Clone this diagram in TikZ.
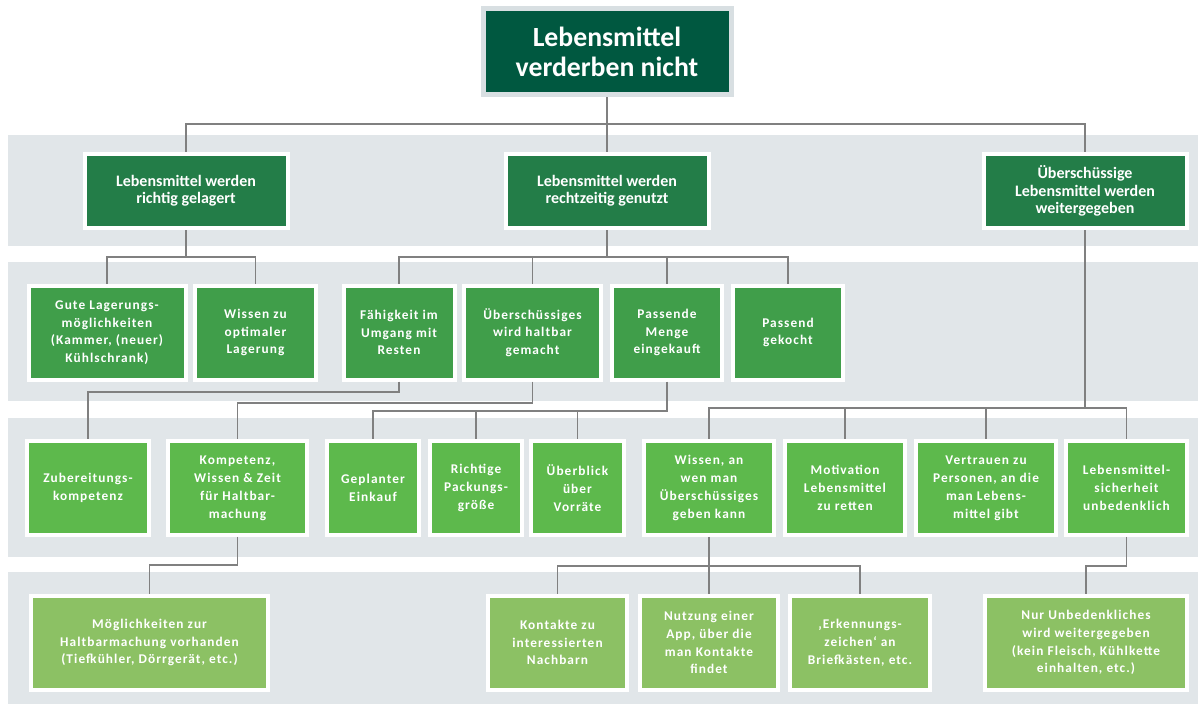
\documentclass[tikz,border=0pt]{standalone}
\usepackage{fontspec}
\setmainfont{Carlito}
\newfontfamily\spacedfont[LetterSpace=8]{Carlito}
\usepackage{tikz}

\definecolor{topgreen}{HTML}{005840}
\definecolor{topframe}{HTML}{D8DFE2}
\definecolor{onegreen}{HTML}{237D48}
\definecolor{twogreen}{HTML}{409E4A}
\definecolor{threegreen}{HTML}{5DB94C}
\definecolor{fourgreen}{HTML}{8CC164}
\definecolor{bandgrey}{HTML}{E1E6E9}
\definecolor{linkgrey}{HTML}{808080}

\begin{document}
\begin{tikzpicture}[
  x=0.75pt, y=-0.75pt,
  band/.style={fill=bandgrey},
  tile/.style={draw=white, line width=3pt, text=white, align=center, inner sep=0pt},
  goalbox/.style={tile, fill=topgreen, draw=topframe, line width=3.75pt, minimum width=248*0.75pt, minimum height=86*0.75pt, font=\fontsize{20.8}{22.5}\selectfont\bfseries},
  lvlone/.style={tile, fill=onegreen, minimum width=203*0.75pt, minimum height=74*0.75pt, font=\fontsize{12}{13}\selectfont\bfseries},
  lvltwo/.style={tile, fill=twogreen, minimum height=94*0.75pt, font=\spacedfont\fontsize{10}{13.3}\selectfont\bfseries},
  lvlthree/.style={tile, fill=threegreen, minimum height=93.5*0.75pt, font=\spacedfont\fontsize{10}{13.5}\selectfont\bfseries},
  lvlfour/.style={tile, fill=fourgreen, minimum height=94*0.75pt, font=\spacedfont\fontsize{10}{13.3}\selectfont\bfseries},
  wd/.style={minimum width=#1*0.75pt},
  link/.style={draw=linkgrey, line width=1pt}
]
\useasboundingbox (0,0) rectangle (1198,704);

% grey bands behind the levels
\fill[band] (8,135) rectangle (1198,246);
\fill[band] (8,262) rectangle (1198,401);
\fill[band] (8,418) rectangle (1198,557);
\fill[band] (8,572) rectangle (1198,704);

% goal
\node[goalbox] (goal) at (607,51.5) {Lebensmittel\\verderben nicht};

% level 1
\node[lvlone] (lager) at (186,191) {Lebensmittel werden\\richtig gelagert};
\node[lvlone] (genutzt) at (607,191) {Lebensmittel werden\\rechtzeitig genutzt};
\node[lvlone] (weiter) at (1085,191) {Überschüssige\\Lebensmittel werden\\weitergegeben};

% level 2
\node[lvltwo, wd=157] (raum) at (107,332.5) {Gute Lagerungs-\\möglichkeiten\\(Kammer, (neuer)\\Kühlschrank)};
\node[lvltwo, wd=121] (wissenlager) at (255.5,332.5) {Wissen zu\\optimaler\\Lagerung};
\node[lvltwo, wd=111] (reste) at (399,332.5) {Fähigkeit im\\Umgang mit\\Resten};
\node[lvltwo, wd=137] (haltbar) at (532.5,332.5) {Überschüssiges\\wird haltbar\\gemacht};
\node[lvltwo, wd=110] (menge) at (667,332.5) {Passende\\Menge\\eingekauft};
\node[lvltwo, wd=110] (gekocht) at (788,332.5) {Passend\\gekocht};

% level 3
\node[lvlthree, wd=122] (zubereit) at (88,488) {Zubereitungs-\\kompetenz};
\node[lvlthree, wd=139] (kompetenz) at (237.5,488) {Kompetenz,\\Wissen \& Zeit\\für Haltbar-\\machung};
\node[lvlthree, wd=92] (geplant) at (373,488) {Geplanter\\Einkauf};
\node[lvlthree, wd=92.5] (packung) at (476,488) {Richtige\\Packungs-\\größe};
\node[lvlthree, wd=93] (vorrat) at (577.5,488) {Überblick\\über\\Vorräte};
\node[lvlthree, wd=130] (wissenan) at (709,488) {Wissen, an\\wen man\\Überschüssiges\\geben kann};
\node[lvlthree, wd=120] (motiv) at (845,488) {Motivation\\Lebensmittel\\zu retten};
\node[lvlthree, wd=140] (vertrauen) at (986,488) {Vertrauen zu\\Personen, an die\\man Lebens-\\mittel gibt};
\node[lvlthree, wd=121] (sicher) at (1126.5,488) {Lebensmittel-\\sicherheit\\unbedenklich};

% level 4
\node[lvlfour, wd=237] (moeglich) at (149.5,642.5) {Möglichkeiten zur\\Haltbarmachung vorhanden\\(Tiefkühler, Dörrgerät, etc.)};
\node[lvlfour, wd=139] (kontakte) at (557.5,642.5) {Kontakte zu\\interessierten\\Nachbarn};
\node[lvlfour, wd=138.5] (app) at (709,642.5) {Nutzung einer\\App, über die\\man Kontakte\\findet};
\node[lvlfour, wd=140] (zeichen) at (860,642.5) {‚Erkennungs-\\zeichen‘ an\\Briefkästen, etc.};
\node[lvlfour, wd=202] (unbedenk) at (1086,642.5) {Nur Unbedenkliches\\wird weitergegeben\\(kein Fleisch, Kühlkette\\einhalten, etc.)};

% junctions
\coordinate (j-goal) at (607,124);
\coordinate (j-lager) at (186,257);
\coordinate (j-genutzt) at (607,257);
\coordinate (j-weiter) at (1085,408);
\coordinate (j-reste) at (399,392);
\coordinate (j-haltbar) at (532.5,403);
\coordinate (j-menge) at (667,411);
\coordinate (j-kompetenz) at (237.5,565);
\coordinate (j-wissenan) at (709,566);
\coordinate (j-sicher) at (1126.5,566);

\draw[link] (goal) -- (j-goal) -| (lager);
\draw[link] (j-goal) -- (genutzt);
\draw[link] (j-goal) -| (weiter);

\draw[link] (lager) -- (j-lager) -| (raum);
\draw[link] (j-lager) -| (wissenlager);
\draw[link] (genutzt) -- (j-genutzt) -| (reste);
\draw[link] (j-genutzt) -| (haltbar);
\draw[link] (j-genutzt) -| (menge);
\draw[link] (j-genutzt) -| (gekocht);

\draw[link] (weiter) -- (j-weiter) -| (wissenan);
\draw[link] (j-weiter) -| (motiv);
\draw[link] (j-weiter) -| (vertrauen);
\draw[link] (j-weiter) -| (sicher);
\draw[link] (reste) -- (j-reste) -| (zubereit);
\draw[link] (haltbar) -- (j-haltbar) -| (kompetenz);
\draw[link] (menge) -- (j-menge) -| (geplant);
\draw[link] (j-menge) -| (packung);
\draw[link] (j-menge) -| (vorrat);

\draw[link] (kompetenz) -- (j-kompetenz) -| (moeglich);
\draw[link] (wissenan) -- (j-wissenan) -| (kontakte);
\draw[link] (j-wissenan) -- (app);
\draw[link] (j-wissenan) -| (zeichen);
\draw[link] (sicher) -- (j-sicher) -| (unbedenk);
\end{tikzpicture}
\end{document}
